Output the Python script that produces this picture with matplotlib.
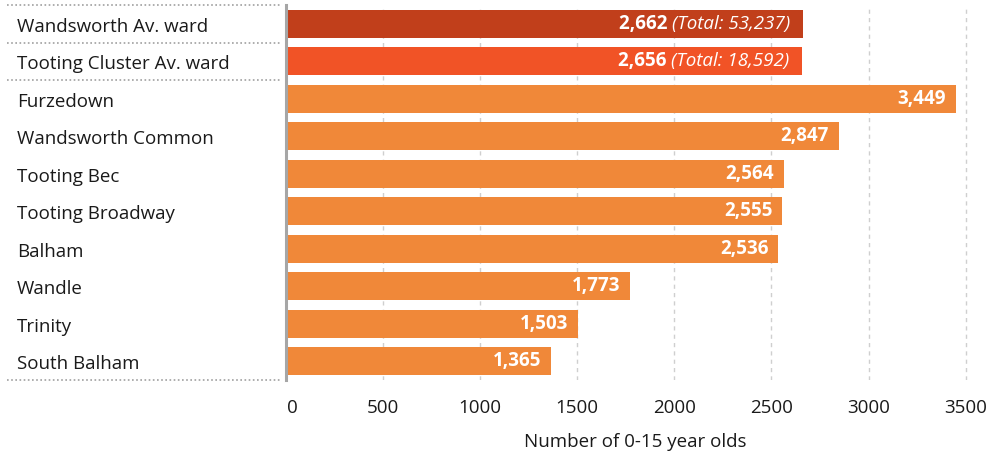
import matplotlib.pyplot as plt
import matplotlib.transforms as mtransforms

plt.rcParams['font.family'] = ['Open Sans', 'DejaVu Sans']

# Datos
wards = ['Wandsworth Av. ward', 'Tooting Cluster Av. ward', 'Furzedown',
         'Wandsworth Common', 'Tooting Bec', 'Tooting Broadway', 'Balham',
         'Wandle', 'Trinity', 'South Balham']
valores = [2662, 2656, 3449, 2847, 2564, 2555, 2536, 1773, 1503, 1365]
totales = {0: 53237, 1: 18592}
colores = ['#C13F1B', '#F15326'] + ['#F08839'] * 8
ticks = [0, 500, 1000, 1500, 2000, 2500, 3000, 3500]

fs = 13.5

fig = plt.figure(figsize=(9.91, 4.53), dpi=100)
ax = fig.add_axes([286 / 991, 1 - 380 / 453, (985 - 286) / 991, 375 / 453])

y = list(range(len(wards)))
barras = ax.barh(y, valores, height=0.75, color=colores, zorder=2)

ax.set_ylim(len(wards) - 0.5, -0.5)
ax.set_xlim(0, 3600)
ax.set_xticks(ticks)
ax.set_yticks([])
ax.tick_params(axis='x', length=0, labelsize=fs, pad=14, colors='#1A1A1A')
# el "0" va un poco a la derecha del eje
primera = ax.get_xticklabels()[0]
primera.set_transform(primera.get_transform() +
                      mtransforms.ScaledTranslation(6 / 100, 0, fig.dpi_scale_trans))
for s in ['top', 'right', 'bottom']:
    ax.spines[s].set_visible(False)
ax.spines['left'].set_color('#A6A6A6')
ax.spines['left'].set_linewidth(2.2)
ax.spines['left'].set_zorder(3)
ax.grid(axis='x', color='#CFCFCF', linestyle=(0, (3, 3)), linewidth=1, zorder=0)
ax.set_xlabel('Number of 0-15 year olds', fontsize=fs, labelpad=11, color='#1A1A1A')

# Etiquetas de la izquierda
trans = mtransforms.blended_transform_factory(fig.transFigure, ax.transData)
for i, w in enumerate(wards):
    fig.text(17 / 991, i + 0.08, w, transform=trans, fontsize=fs, va='center',
             ha='left', color='#1A1A1A')

# Separadores punteados
for yy in [-0.5, 0.5, 1.5, len(wards) - 0.5]:
    ax.plot([7 / 991, 282 / 991], [yy, yy], transform=trans, color='#A0A0A0',
            linestyle=(0, (1, 1.5)), linewidth=1.2, clip_on=False)

# Valores dentro de las barras
for i, v in enumerate(valores):
    if i in totales:
        t = ax.annotate(f'(Total: {totales[i]:,})', xy=(v, i), xytext=(-9, 0),
                        textcoords='offset points', ha='right', va='center',
                        color='white', fontsize=fs, style='italic')
        ax.annotate(f'{v:,} ', xy=(0, 0.5), xycoords=t, ha='right', va='center',
                    color='white', fontsize=fs, fontweight='bold')
    else:
        ax.annotate(f'{v:,}', xy=(v, i), xytext=(-7, 0),
                    textcoords='offset points', ha='right', va='center',
                    color='white', fontsize=fs, fontweight='bold')

fig.savefig('out.png', dpi=100)
